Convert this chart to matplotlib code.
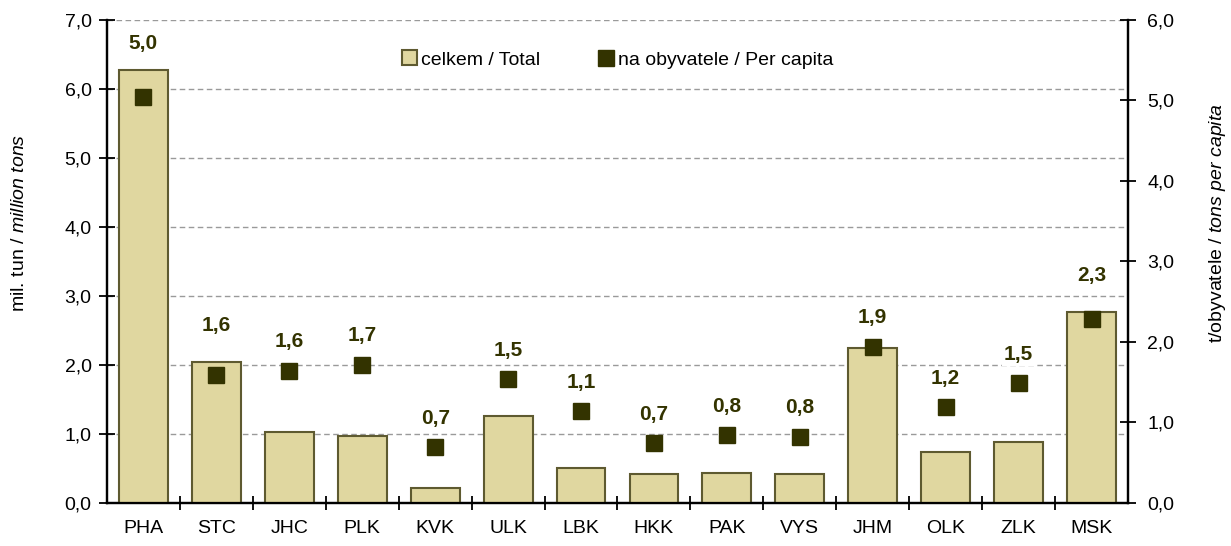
import matplotlib
matplotlib.use("Agg")
import matplotlib.pyplot as plt
import numpy as np
from matplotlib.ticker import FuncFormatter, FixedLocator

plt.rcParams['font.family'] = ['Liberation Sans', 'DejaVu Sans']
plt.rcParams['mathtext.fontset'] = 'custom'
plt.rcParams['mathtext.rm'] = 'Liberation Sans'
plt.rcParams['mathtext.it'] = 'Liberation Sans:italic'

regions = ["PHA", "STC", "JHC", "PLK", "KVK", "ULK", "LBK", "HKK", "PAK", "VYS", "JHM", "OLK", "ZLK", "MSK"]
total = [6.27, 2.05, 1.03, 0.97, 0.21, 1.26, 0.50, 0.42, 0.44, 0.42, 2.25, 0.74, 0.88, 2.77]
per_capita = [5.04, 1.59, 1.64, 1.72, 0.69, 1.54, 1.14, 0.74, 0.84, 0.82, 1.94, 1.19, 1.49, 2.29]
label_total = "celkem / Total"
label_pc = "na obyvatele / Per capita"

bar_fill = "#E0D7A0"
bar_edge = "#5E5A30"
mark_col = "#333300"

W, H = 1231, 546
fig = plt.figure(figsize=(W / 100, H / 100), dpi=100)
ax = fig.add_axes([0.0869, 0.0788, 0.8294, 0.8846])
ax2 = ax.twinx()

x = np.arange(len(regions))
ax.set_zorder(1)
ax2.set_zorder(2)
ax.patch.set_visible(False)

bars = ax.bar(x, total, width=0.67, color=bar_fill, edgecolor=bar_edge, linewidth=1.5, zorder=3, label=label_total)
ax.set_ylim(0, 7)
ax.set_xlim(-0.5, len(regions) - 0.5)
ax.yaxis.set_major_locator(FixedLocator(np.arange(0, 8, 1)))
ax.yaxis.grid(True, linestyle=(0, (4, 2.5)), color="#9A9A9A", linewidth=1.0, zorder=0)
ax.set_axisbelow(True)

pts, = ax2.plot(x, per_capita, linestyle="none", marker="s", markersize=11, color=mark_col, zorder=5, label=label_pc)
ax2.set_ylim(0, 6)
ax2.yaxis.set_major_locator(FixedLocator(np.arange(0, 7, 1)))

fmt = FuncFormatter(lambda v, p: f"{v:.1f}".replace(".", ","))
ax.yaxis.set_major_formatter(fmt)
ax2.yaxis.set_major_formatter(fmt)

# data labels (positioned in pixel space above the higher of bar top / marker)
trans = ax2.transData
inv = ax2.transData.inverted()
top_px = trans.transform((0, 6))[1]
for xi, t, pc in zip(x, total, per_capita):
    bar_px = ax.transData.transform((xi, t))[1]
    mk_px = trans.transform((xi, pc))[1]
    if bar_px > mk_px:
        ypx = min(bar_px + 36, top_px - 24)
        bbox = None
    else:
        ypx = mk_px + 29
        bbox = dict(boxstyle="square,pad=0.1", fc="white", ec="none")
    yd = inv.transform((0, ypx))[1]
    ax2.text(xi, yd, f"{pc:.1f}".replace(".", ","), ha="center", va="center", fontsize=15,
             fontweight="bold", color=mark_col, zorder=6, bbox=bbox)

# x ticks
ax.set_xticks(x)
ax.set_xticklabels(regions)
ax.xaxis.set_minor_locator(FixedLocator(np.arange(0.5, len(regions) - 0.5, 1)))
ax.tick_params(axis="x", which="major", length=0, labelsize=14, pad=12)
ax.tick_params(axis="x", which="minor", length=10, width=1.3, direction="inout")
ax.tick_params(axis="y", which="major", length=12, width=1.3, direction="inout", labelsize=14, pad=5)
ax2.tick_params(axis="y", which="major", length=12, width=1.3, direction="inout", labelsize=14, pad=8)

for a in (ax, ax2):
    a.spines["top"].set_visible(False)
    for s in ("left", "right", "bottom"):
        a.spines[s].set_linewidth(1.6)
        a.spines[s].set_color("black")

ax.set_ylabel(r"mil. tun / $\it{million\ tons}$", fontsize=14)
ax2.set_ylabel(r"t/obyvatele / $\it{tons\ per\ capita}$", fontsize=14, rotation=90)
ax.yaxis.set_label_coords(-0.077, 0.58)
ax2.yaxis.set_label_coords(1.077, 0.58)

leg = ax2.legend(handles=[bars, pts], loc="center", bbox_to_anchor=(0.5, 0.918), ncol=2, frameon=False,
                 fontsize=14, handlelength=0.8, handleheight=0.8, handletextpad=0.2, columnspacing=3.0)

fig.savefig("out.png", dpi=100)
